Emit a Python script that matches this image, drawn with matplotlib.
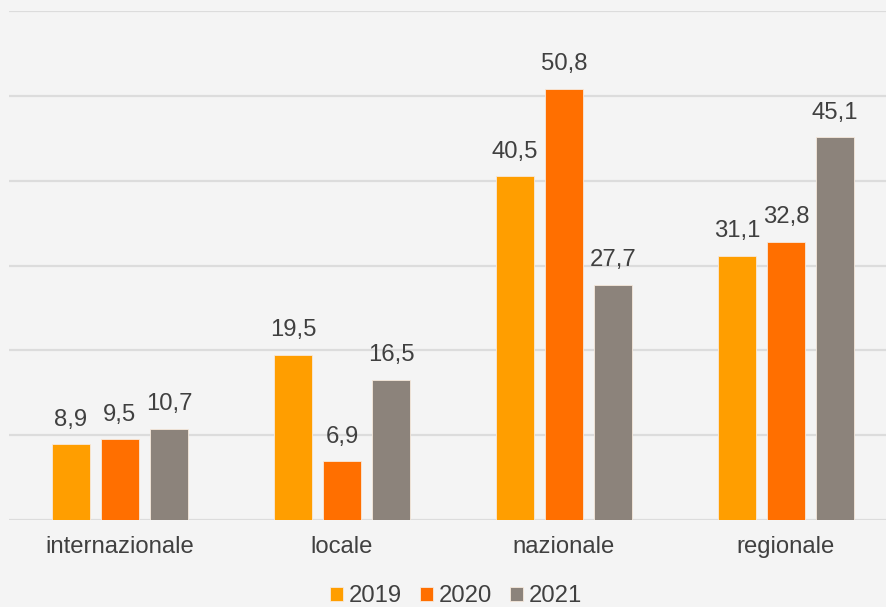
import numpy as np
import matplotlib
matplotlib.use("Agg")
import matplotlib.pyplot as plt

categories = ["internazionale", "locale", "nazionale", "regionale"]
years = ["2019", "2020", "2021"]
v2019 = [8.9, 19.5, 40.5, 31.1]
v2020 = [9.5, 6.9, 50.8, 32.8]
v2021 = [10.7, 16.5, 27.7, 45.1]
colors = ["#FF9E00", "#FF6F00", "#8C837B"]

plt.rcParams["font.family"] = ["Liberation Sans", "DejaVu Sans"]
txt = "#404040"
bg = "#F4F4F4"
fs = 17.2

fig = plt.figure(figsize=(8.87, 6.07), dpi=100, facecolor=bg)
# right edge of the plot area runs past the image border, as in the reference
ax = fig.add_axes([9 / 887, 87 / 607, 888 / 887, 509 / 607], facecolor=bg)

x = np.arange(len(categories))
w = 38 / 222
step = 49 / 222
series = [v2019, v2020, v2021]
for i, (vals, c, lab) in enumerate(zip(series, colors, years)):
    bars = ax.bar(x + (i - 1) * step, vals, w, color=c, label=lab,
                  edgecolor="#F7E9DC", linewidth=0.6, zorder=3)
    for b, v in zip(bars, vals):
        ax.annotate(f"{v:.1f}".replace(".", ","),
                    (b.get_x() + b.get_width() / 2, v),
                    xytext=(0, 13.5), textcoords="offset points",
                    ha="center", va="baseline", fontsize=fs, color=txt)

ax.set_xlim(-0.5, len(categories) - 0.5)
ax.set_ylim(0, 60)
ax.set_yticks(np.arange(0, 61, 10))
ax.yaxis.grid(True, color="#DCDCDC", linewidth=1.6, zorder=0)
ax.set_axisbelow(True)
ax.tick_params(axis="y", left=False, labelleft=False)
ax.set_xticks(x)
ax.set_xticklabels(categories, fontsize=fs, color=txt)
ax.tick_params(axis="x", length=0, pad=11.5)
for s in ax.spines.values():
    s.set_visible(False)

fig.legend(loc="center", bbox_to_anchor=(456 / 887, 10.5 / 607), ncol=3,
           frameon=False, fontsize=fs, labelcolor=txt,
           handlelength=0.55, handleheight=0.55, handletextpad=0.25,
           columnspacing=0.75, borderpad=0)

fig.savefig("out.png", dpi=100, facecolor=bg)
